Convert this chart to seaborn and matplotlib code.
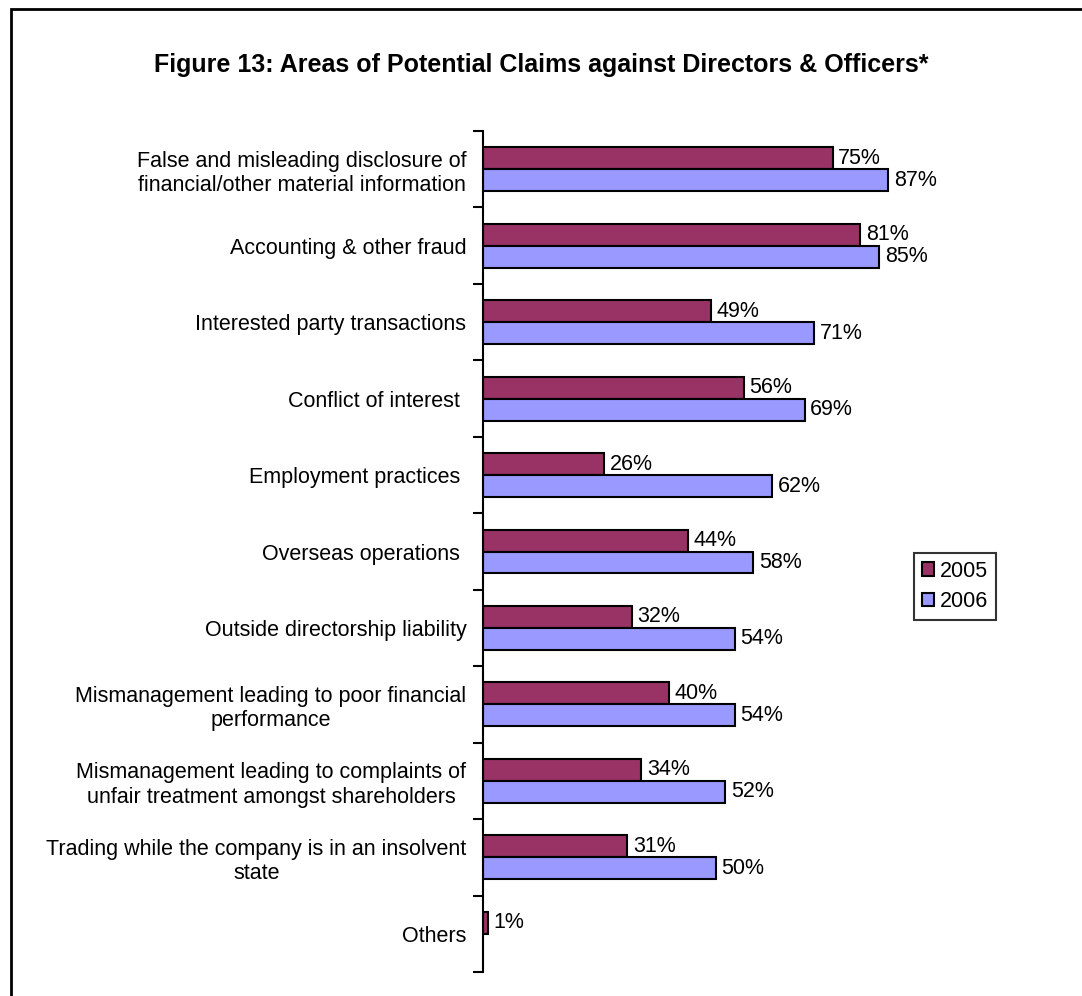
import matplotlib
matplotlib.use("Agg")
import matplotlib.pyplot as plt
import matplotlib.patches as mpatches
import pandas as pd
import seaborn as sns

areas = [
    "False and misleading disclosure of\nfinancial/other material information",
    "Accounting & other fraud",
    "Interested party transactions",
    "Conflict of interest ",
    "Employment practices ",
    "Overseas operations ",
    "Outside directorship liability",
    "Mismanagement leading to poor financial\nperformance",
    "Mismanagement leading to complaints of\nunfair treatment amongst shareholders",
    "Trading while the company is in an insolvent\nstate",
    "Others",
]
values_2005 = [75, 81, 49, 56, 26, 44, 32, 40, 34, 31, 1]
values_2006 = [87, 85, 71, 69, 62, 58, 54, 54, 52, 50, None]
years = ["2005", "2006"]
colors = {"2005": "#993366", "2006": "#9999FF"}

rows = []
for a, v5, v6 in zip(areas, values_2005, values_2006):
    if v5 is not None:
        rows.append({"area": a, "year": "2005", "value": v5})
    if v6 is not None:
        rows.append({"area": a, "year": "2006", "value": v6})
df = pd.DataFrame(rows)

sns.set_theme(style="white")
plt.rcParams["font.family"] = ["Liberation Sans", "DejaVu Sans"]
plt.rcParams["text.color"] = "black"
plt.rcParams["ytick.color"] = "black"
plt.rcParams["ytick.labelcolor"] = "black"

FS = 15.5
W, H = 1082, 996
fig = plt.figure(figsize=(W / 100, H / 100), dpi=100)
ax = fig.add_axes([483 / W, 1 - 972 / H, 466 / W, (972 - 131) / H])

sns.barplot(
    data=df, y="area", x="value", hue="year", order=areas, hue_order=years,
    orient="h", palette=colors, edgecolor="black", linewidth=1.5,
    width=0.575, gap=0, saturation=1, ax=ax, legend=False,
)

for cont in ax.containers:
    ax.bar_label(cont, labels=[f"{v:.0f}%" for v in cont.datavalues],
                 padding=4, fontsize=FS, color="black")

ax.set_xlim(0, 100)
ax.set_ylim(len(areas) - 0.5, -0.5)
ax.set_xlabel("")
ax.set_ylabel("")
ax.set_xticks([])

# category labels centred, tick marks on the category boundaries
ax.set_yticks(range(len(areas)))
ax.set_yticklabels(areas, fontsize=FS, ha="right", multialignment="center",
                   color="black")
ax.tick_params(axis="y", which="major", length=0, pad=12)
ax.set_yticks([i - 0.5 for i in range(len(areas) + 1)], minor=True)
ax.tick_params(axis="y", which="minor", length=7, width=1.5, color="black",
               direction="out", left=True)

for s in ["top", "right", "bottom"]:
    ax.spines[s].set_visible(False)
ax.spines["left"].set_color("black")
ax.spines["left"].set_linewidth(1.5)

handles = [mpatches.Patch(facecolor=colors[y], edgecolor="black", linewidth=1.5, label=y)
           for y in years]
leg = fig.legend(
    handles=handles, loc="upper left", bbox_to_anchor=(914 / W, 1 - 553 / H),
    frameon=True, fancybox=False, fontsize=FS, handlelength=0.6,
    handleheight=0.6, handletextpad=0.25, borderpad=0.35, labelspacing=0.45,
    borderaxespad=0,
)
leg.get_frame().set_edgecolor("black")
leg.get_frame().set_linewidth(1.5)
for t in leg.get_texts():
    t.set_color("black")

fig.text(541 / W, 1 - 65 / H,
         "Figure 13: Areas of Potential Claims against Directors & Officers*",
         ha="center", va="center", fontsize=18, fontweight="bold", color="black")

# outer frame
fig.patches.append(mpatches.Rectangle(
    (11 / W, -0.02), 1.05, 1 - 9 / H + 0.02, transform=fig.transFigure,
    fill=False, edgecolor="black", linewidth=2))

fig.savefig("out.png", dpi=100)
